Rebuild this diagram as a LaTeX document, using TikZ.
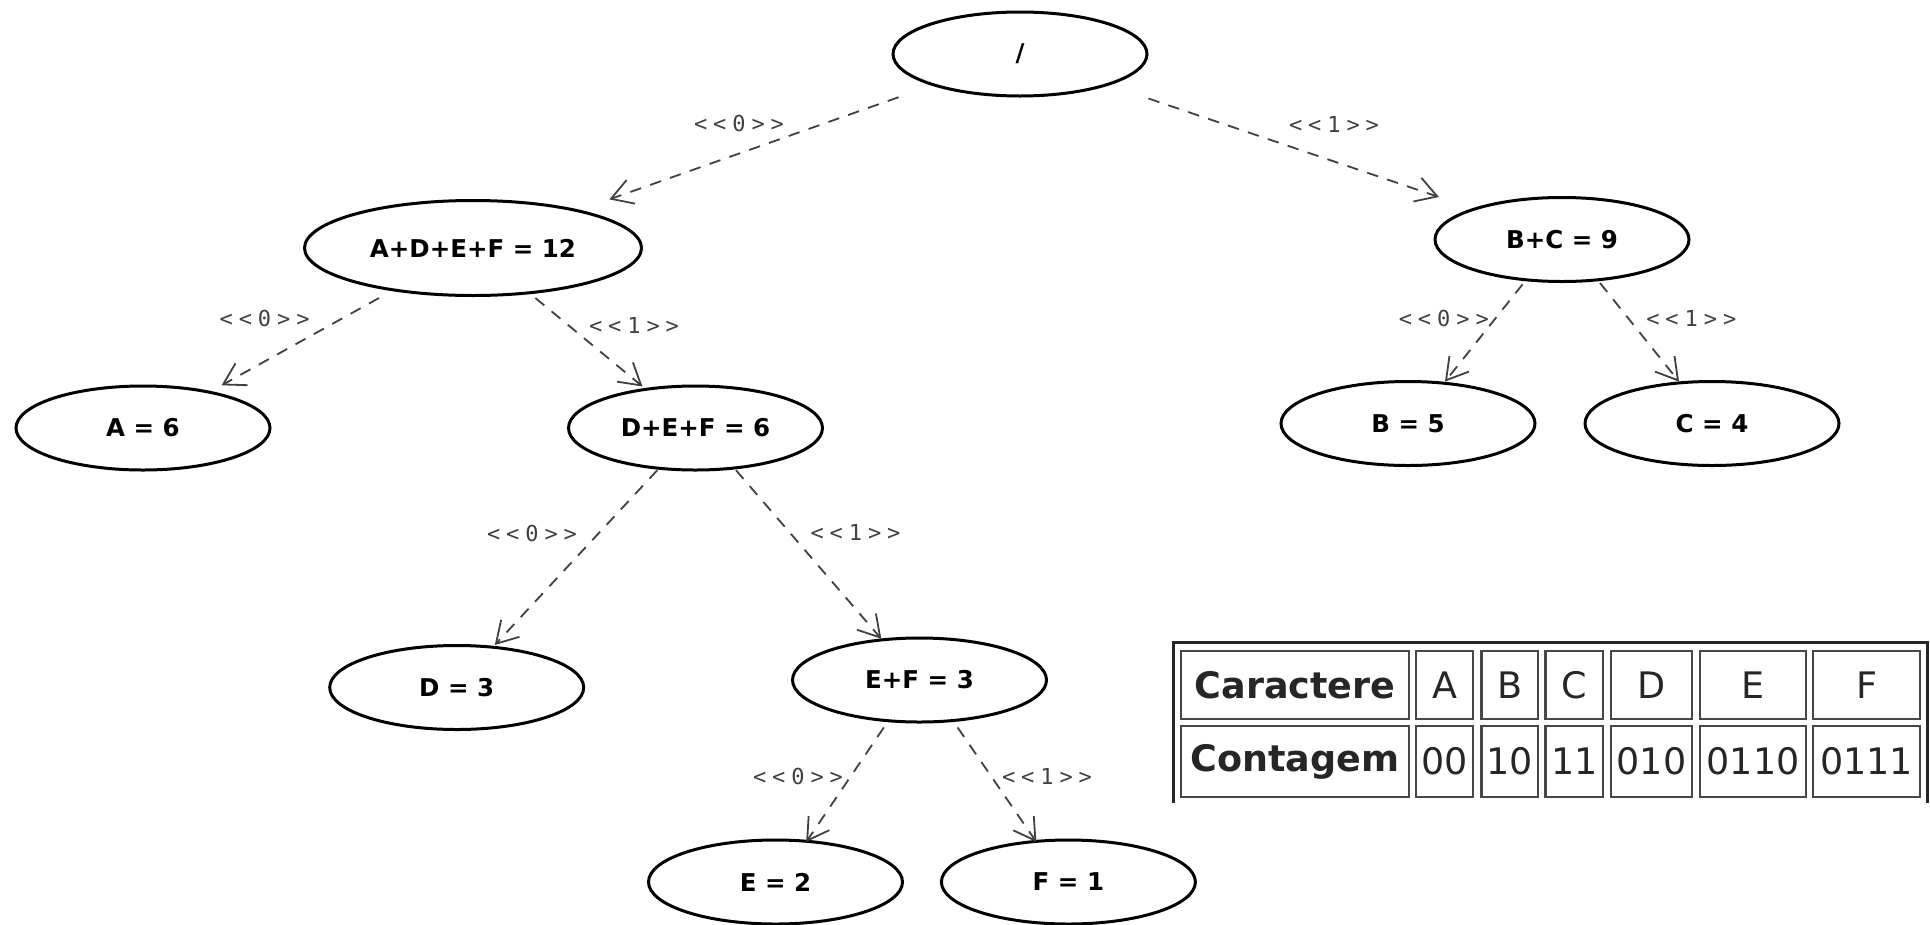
\documentclass[tikz,border=0pt]{standalone}
\usepackage{fontspec}
\setmainfont{DejaVu Sans}
\newfontfamily\nodefont{DejaVu Sans}
\newfontfamily\lblfont[LetterSpace=27]{DejaVu Sans Mono}
\usetikzlibrary{shapes.geometric,arrows.meta}
\begin{document}
\begin{tikzpicture}[x=1pt,y=-1pt,
  tnode/.style={draw=black, line width=3pt, ellipse, minimum width=254pt, minimum height=84pt,
    inner sep=0pt, outer sep=0pt, font=\nodefont\bfseries\fontsize{24.5}{28}\selectfont},
  conn/.style={draw=black!75, line width=1.8pt, dash pattern=on 11.5pt off 9.5pt,
    -{Straight Barb[length=21pt,width=25pt,line width=1.8pt]}},
  lbl/.style={font=\lblfont\fontsize{22}{24}\selectfont, text=black!75, inner sep=0pt},
  cell/.style={draw=black!72, line width=2.5pt, rectangle, inner sep=0pt,
    font=\fontsize{36.5}{40}\selectfont, text=black!85},
]
\useasboundingbox (0,0) rectangle (1930,924);

% tree nodes
\node[tnode] (root) at (1020,54) {/};
\node[tnode, minimum width=337pt, minimum height=95pt] (adef) at (473,248) {A+D+E+F = 12};
\node[tnode] (bc) at (1562,239.5) {B+C = 9};
\node[tnode] (a) at (143,428) {A = 6};
\node[tnode] (def) at (695.5,428) {D+E+F = 6};
\node[tnode] (b) at (1408,423.5) {B = 5};
\node[tnode] (c) at (1712,423.5) {C = 4};
\node[tnode] (d) at (456.7,687.5) {D = 3};
\node[tnode] (ef) at (919.5,680) {E+F = 3};
\node[tnode] (e) at (775.5,882) {E = 2};
\node[tnode] (f) at (1068.4,882) {F = 1};

% connectors
\draw[conn] ([shift={(-121.4,43.2)}]root.center) -- ([shift={(136.3,-48.6)}]adef.center);
\draw[conn] ([shift={(128.4,44.5)}]root.center) -- ([shift={(-123.1,-42.5)}]bc.center);
\draw[conn] ([shift={(-94,50)}]adef.center) -- ([shift={(78.6,-42.7)}]a.center);
\draw[conn] ([shift={(62.4,50)}]adef.center) -- ([shift={(-53,-41.5)}]def.center);
\draw[conn] ([shift={(-39.4,44.8)}]bc.center) -- ([shift={(37,-41.9)}]b.center);
\draw[conn] ([shift={(38,43.5)}]bc.center) -- ([shift={(-33,-41.9)}]c.center);
\draw[conn] ([shift={(-38.2,42.2)}]def.center) -- ([shift={(38.1,-42.5)}]d.center);
\draw[conn] ([shift={(40.5,42.2)}]def.center) -- ([shift={(-38.2,-41.2)}]ef.center);
\draw[conn] ([shift={(-35.7,47.5)}]ef.center) -- ([shift={(30.7,-40)}]e.center);
\draw[conn] ([shift={(38.1,47.5)}]ef.center) -- ([shift={(-32,-40)}]f.center);

% connector labels
\node[lbl] (l1) at (739,123.5) {<<0>>};
\node[lbl] (l2) at (1334,124.3) {<<1>>};
\node[lbl] (l3) at (264.6,318) {<<0>>};
\node[lbl] (l4) at (634,325) {<<1>>};
\node[lbl] (l5) at (1443.8,318) {<<0>>};
\node[lbl] (l6) at (1691.3,318) {<<1>>};
\node[lbl] (l7) at (532,533) {<<0>>};
\node[lbl] (l8) at (855.5,532) {<<1>>};
\node[lbl] (l9) at (798,776) {<<0>>};
\node[lbl] (l10) at (1047,776) {<<1>>};

% table
\draw[line width=3pt, black!85] (1173.5,803) -- (1173.5,642) -- (1927,642) -- (1927,803);
\node[cell, minimum width=228pt, minimum height=68pt] (h0) at (1295,685) {\bfseries Caractere};
\node[cell, minimum width=57pt, minimum height=68pt] (h1) at (1444.5,685) {A};
\node[cell, minimum width=56.5pt, minimum height=68pt] (h2) at (1509.75,685) {B};
\node[cell, minimum width=57.5pt, minimum height=68pt] (h3) at (1574.25,685) {C};
\node[cell, minimum width=81pt, minimum height=68pt] (h4) at (1651.5,685) {D};
\node[cell, minimum width=106pt, minimum height=68pt] (h5) at (1753,685) {E};
\node[cell, minimum width=107pt, minimum height=68pt] (h6) at (1866.5,685) {F};
\node[cell, minimum width=228pt, minimum height=71pt] (r0) at (1295,761.5) {\bfseries Contagem};
\node[cell, minimum width=57pt, minimum height=71pt] (r1) at (1444.5,761.5) {00};
\node[cell, minimum width=56.5pt, minimum height=71pt] (r2) at (1509.75,761.5) {10};
\node[cell, minimum width=57.5pt, minimum height=71pt] (r3) at (1574.25,761.5) {11};
\node[cell, minimum width=81pt, minimum height=71pt] (r4) at (1651.5,761.5) {010};
\node[cell, minimum width=106pt, minimum height=71pt] (r5) at (1753,761.5) {0110};
\node[cell, minimum width=107pt, minimum height=71pt] (r6) at (1866.5,761.5) {0111};
\end{tikzpicture}
\end{document}
